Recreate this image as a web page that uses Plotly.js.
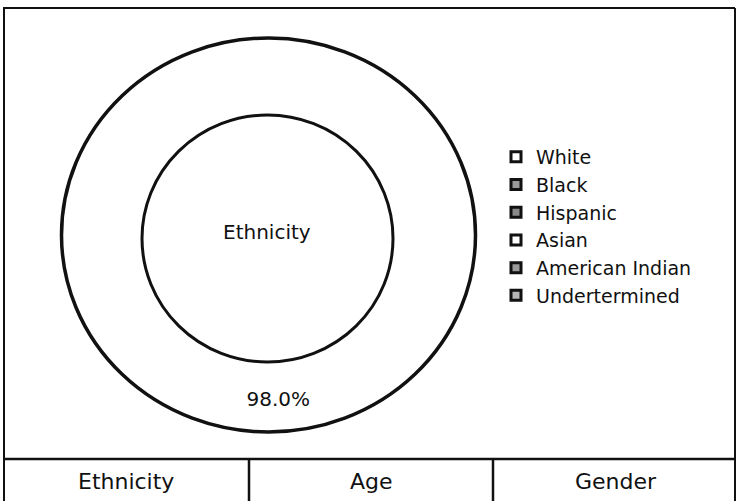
<!DOCTYPE html>
<html>
<head>
<meta charset="utf-8">
<script src="https://cdn.plot.ly/plotly-3.0.1.min.js"></script>
<style>html,body{margin:0;padding:0;background:#fff;}#chart{width:737px;height:501px;}</style>
</head>
<body>
<div id="chart"></div>
<script>
// Data
const labels = ['White', 'Black', 'Hispanic', 'Asian', 'American Indian', 'Undertermined'];
const values = [98.0, 0.8, 0.5, 0.3, 0.2, 0.2];
const centerTitle = 'Ethnicity';
const tabLabels = ['Ethnicity', 'Age', 'Gender'];

// Styles
const W = 737, H = 501;
const FONT = '"DejaVu Sans", "Liberation Sans", Arial, sans-serif';
const swatchFills = ['#ffffff', '#9a9a9a', '#8a8a8a', '#ffffff', '#9a9a9a', '#b5b5b5'];

const px = x => x / W;
const py = y => 1 - y / H;

const pie = {
  type: 'pie',
  labels: labels,
  values: values,
  sort: false,
  direction: 'clockwise',
  rotation: 0,
  hole: 0.616,
  domain: {x: [px(66), px(470)], y: [py(438), py(34)]},
  marker: {colors: labels.map(() => '#ffffff'), line: {width: 0}},
  texttemplate: labels.map((l, i) => i === 0 ? '%{percent:.1%}' : ''),
  textposition: 'inside',
  insidetextorientation: 'horizontal',
  textfont: {family: FONT, size: 20, color: '#111'},
  showlegend: false,
  hoverinfo: 'label+percent'
};

const legendTraces = labels.map((l, i) => ({
  type: 'scatter',
  mode: 'markers',
  x: [null], y: [null],
  name: l,
  marker: {symbol: 'square', size: 10, color: swatchFills[i], line: {color: '#111', width: 3}},
  hoverinfo: 'skip'
}));

function ellipse(cx, cy, rx, ry, w) {
  return {type: 'circle', xref: 'paper', yref: 'paper',
    xsizemode: 'pixel', ysizemode: 'pixel', xanchor: px(cx), yanchor: py(cy),
    x0: -rx, x1: rx, y0: -ry, y1: ry,
    line: {color: '#111', width: w}, fillcolor: 'rgba(0,0,0,0)', layer: 'above'};
}
function seg(x0, y0, x1, y1, w) {
  return {type: 'line', xref: 'paper', yref: 'paper',
    x0: px(x0), y0: py(y0), x1: px(x1), y1: py(y1),
    line: {color: '#111', width: w}};
}

const tabCenters = [126, 371, 616];
const annotations = tabLabels.map((t, i) => ({
  xref: 'paper', yref: 'paper', x: px(tabCenters[i]), y: py(481),
  text: t, showarrow: false, xanchor: 'center', yanchor: 'middle',
  font: {family: FONT, size: 22, color: '#111'}
}));
annotations.push({
  xref: 'paper', yref: 'paper', x: px(267), y: py(232),
  text: centerTitle, showarrow: false, xanchor: 'center', yanchor: 'middle',
  font: {family: FONT, size: 20, color: '#111'}
});

const layout = {
  width: W, height: H,
  margin: {l: 0, r: 0, t: 0, b: 0},
  paper_bgcolor: '#ffffff', plot_bgcolor: '#ffffff',
  xaxis: {visible: false, range: [0, 1]},
  yaxis: {visible: false, range: [0, 1]},
  showlegend: true,
  legend: {x: px(496), y: py(138), xanchor: 'left', yanchor: 'top',
    font: {family: FONT, size: 19, color: '#111'}, bgcolor: 'rgba(0,0,0,0)', itemclick: false},
  shapes: [
    ellipse(268.5, 235, 207, 197, 3.5),
    ellipse(267.5, 238.5, 125.5, 123.5, 3),
    seg(3, 8, 735, 8, 2),
    seg(4, 8, 4, 501, 2),
    seg(735, 8, 735, 501, 2),
    seg(4, 459, 735, 459, 2.5),
    seg(249, 459, 249, 501, 2.5),
    seg(493, 459, 493, 501, 2.5)
  ],
  annotations: annotations
};

Plotly.newPlot('chart', [pie].concat(legendTraces), layout, {displayModeBar: false, staticPlot: true});
</script>
</body>
</html>
